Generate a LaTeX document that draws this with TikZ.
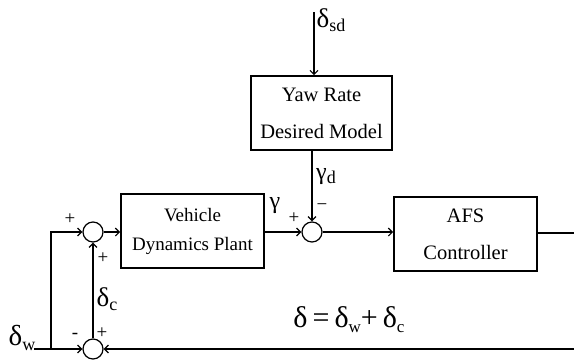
\documentclass[tikz,border=0pt]{standalone}
\usepackage{fontspec}
\setmainfont{Liberation Serif}
\usetikzlibrary{arrows.meta,calc}
\newcommand\gsb[5]{{\fontsize{#1}{#1}\selectfont #2}\raisebox{-#5}{\fontsize{#3}{#3}\selectfont #4}}
\begin{document}
\begin{tikzpicture}[x=1pt,y=-1pt,
  blk/.style={draw,line width=1.6pt,minimum width=143pt,minimum height=74pt,inner sep=0pt,align=center,font=\fontsize{19}{29}\selectfont},
  sumc/.style={draw,circle,line width=1.2pt,minimum size=20pt,inner sep=0pt},
  conn/.style={line width=1.2pt},
  arr/.style={conn,-{Straight Barb[length=4pt,width=8pt,line width=1.2pt]}},
  thk/.style={line width=1.8pt},
  sgn/.style={inner sep=0pt,font=\fontsize{19}{19}\selectfont},
  lab/.style={inner sep=0pt}]
\useasboundingbox (0,0) rectangle (574,360);
\fill[white] (0,0) rectangle (574,360);
% blocks
\node[blk,minimum width=141pt,font=\fontsize{20.5}{37}\selectfont] (yaw) at (321.5,113) {Yaw Rate\\Desired Model};
\node[blk] (veh) at (192.5,231) {Vehicle\\Dynamics Plant};
\node[blk,font=\fontsize{20.5}{37}\selectfont] (afs) at (465.5,234) {AFS\\Controller};
% summing junctions
\node[sumc] (s1) at (93,232) {};
\node[sumc] (s2) at (93,349) {};
\node[sumc] (s3) at (312,232) {};
% free ends
\coordinate (sdtop) at (314,12);
\coordinate (win) at (34,349);
\coordinate (br) at (51,349);
\coordinate (outR) at (575,233);
\coordinate (botR) at (575,349);
% connectors
\draw[arr] (sdtop) -- (sdtop |- yaw.north);
\draw[arr] (yaw.south -| s3) -- (s3);
\draw[arr] (win) -- (s2);
\draw[arr] (br) |- (s1);
\draw[arr] (s2) -- (s1);
\draw[arr] (s1) -- (veh.west |- s1);
\draw[arr] (veh.east |- s3) -- (s3);
\draw[arr] (s3) -- (afs.west |- s3);
\draw[thk] (afs.east |- outR) -- (outR);
\draw[thk,-{Straight Barb[length=4pt,width=8pt,line width=1.2pt]}] (botR) -- (s2);
% signs
\node[sgn] (p1) at (70,219) {+};
\node[sgn] (p2) at (103,258) {+};
\node[sgn] (m1) at (75,336) {-};
\node[sgn] (p3) at (102,333) {+};
\node[sgn] (p4) at (294,218) {+};
\node[sgn] (m2) at (322,207) {−};
% labels
\node[lab] (lsd) at (331,20) {\gsb{27}{δ}{18}{sd}{4pt}};
\node[lab] (lgd) at (326,177) {\gsb{24}{γ}{18}{d}{4pt}};
\node[lab] (lg) at (275,206) {\fontsize{24}{24}\selectfont γ};
\node[lab] (ldc) at (107,299) {\gsb{27}{δ}{18}{c}{4pt}};
\node[lab] (ldw) at (22,338) {\gsb{29}{δ}{18}{w}{5pt}};
\node[lab] (eq) at (349,320) {\gsb{30}{δ\,=\,δ}{17}{w}{5pt}\gsb{30}{+\,δ}{17}{c}{5pt}};
\end{tikzpicture}
\end{document}
